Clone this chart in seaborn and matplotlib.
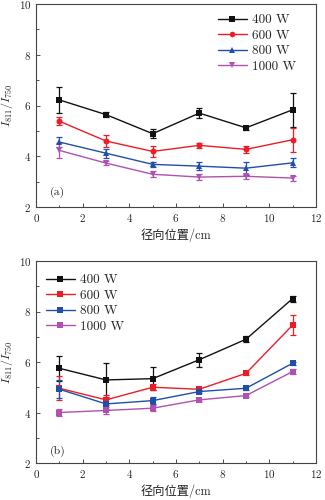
import numpy as np
import pandas as pd
import matplotlib
matplotlib.use("Agg")
import matplotlib.pyplot as plt
import seaborn as sns

sns.set_theme(style="ticks")
plt.rcParams['font.family'] = ['cmr10', 'Noto Sans CJK SC', 'DejaVu Sans']
plt.rcParams['mathtext.fontset'] = 'cm'
plt.rcParams['axes.formatter.use_mathtext'] = True

positions = [1, 3, 5, 7, 9, 11]
powers = ["400 W", "600 W", "800 W", "1000 W"]

a_400 = [6.22, 5.64, 4.89, 5.70, 5.12, 5.83]
a_400_err = [0.50, 0.10, 0.17, 0.20, 0.07, 0.68]
a_600 = [5.38, 4.60, 4.19, 4.43, 4.27, 4.65]
a_600_err = [0.15, 0.24, 0.22, 0.10, 0.15, 0.48]
a_800 = [4.56, 4.12, 3.68, 3.61, 3.53, 3.74]
a_800_err = [0.20, 0.17, 0.10, 0.15, 0.25, 0.18]
a_1000 = [4.23, 3.73, 3.29, 3.18, 3.21, 3.14]
a_1000_err = [0.30, 0.08, 0.12, 0.12, 0.10, 0.10]

b_400 = [5.75, 5.29, 5.34, 6.09, 6.90, 8.51]
b_400_err = [0.50, 0.68, 0.45, 0.28, 0.12, 0.12]
b_600 = [4.96, 4.50, 5.00, 4.92, 5.55, 7.46]
b_600_err = [0.48, 0.20, 0.12, 0.05, 0.05, 0.40]
b_800 = [4.92, 4.34, 4.47, 4.83, 4.96, 5.95]
b_800_err = [0.35, 0.20, 0.15, 0.07, 0.08, 0.05]
b_1000 = [4.00, 4.08, 4.17, 4.50, 4.67, 5.62]
b_1000_err = [0.15, 0.15, 0.12, 0.05, 0.05, 0.10]

colors = ["#111111", "#ee1c25", "#1f4fa8", "#b050b0"]
markers_a = ["s", "o", "^", "v"]
markers_b = ["s", "s", "s", "s"]

xlabel = "径向位置/cm"
ylabel = r"$I_{811}/I_{750}$"


def make_df(series):
    rows = []
    for p, (vals, errs) in zip(powers, series):
        for x, v, e in zip(positions, vals, errs):
            rows.append({"x": x, "y": v, "err": e, "power": p})
    return pd.DataFrame(rows)


fig = plt.figure(figsize=(3.25, 5.0), dpi=100)
ax_a = fig.add_axes([0.111, 0.586, 0.861, 0.406])
ax_b = fig.add_axes([0.111, 0.074, 0.861, 0.404])

panels = [
    (ax_a, make_df([(a_400, a_400_err), (a_600, a_600_err), (a_800, a_800_err), (a_1000, a_1000_err)]),
     markers_a, "(a)", "upper right", (0.964, 1.0), 0.06),
    (ax_b, make_df([(b_400, b_400_err), (b_600, b_600_err), (b_800, b_800_err), (b_1000, b_1000_err)]),
     markers_b, "(b)", "upper left", (0.0, 0.985), 0.045),
]

for ax, df, mks, lab, loc, anchor, ly in panels:
    for p, c in zip(powers, colors):
        sub = df[df.power == p]
        ax.errorbar(sub.x, sub.y, yerr=sub.err, fmt="none", ecolor=c,
                    elinewidth=0.9, capsize=2.5, capthick=0.9, zorder=2)
    sns.lineplot(data=df, x="x", y="y", hue="power", style="power",
                 hue_order=powers, style_order=powers, palette=colors,
                 markers=mks, dashes=False, markersize=4.3, markeredgewidth=0,
                 linewidth=1.0, ax=ax, zorder=3)
    ax.set_xlim(0, 12)
    ax.set_ylim(2, 10)
    ax.set_xticks([0, 2, 4, 6, 8, 10, 12])
    ax.set_yticks([2, 4, 6, 8, 10])
    ax.set_xticks([1, 3, 5, 7, 9, 11], minor=True)
    ax.set_yticks([3, 5, 7, 9], minor=True)
    ax.tick_params(axis="both", which="both", direction="in", labelsize=8,
                   color="#333333")
    ax.tick_params(which="major", length=3, width=0.6)
    ax.tick_params(which="minor", length=1.8, width=0.6)
    for s in ax.spines.values():
        s.set_linewidth(0.8)
        s.set_color("#444444")
    ax.set_xlabel(xlabel, fontsize=8.8, labelpad=3)
    ax.set_ylabel(ylabel, fontsize=8.5)
    ax.yaxis.set_label_coords(-0.075, 0.5)
    ax.text(0.05, ly, lab, transform=ax.transAxes, fontsize=8.5)
    leg = ax.legend(loc=loc, bbox_to_anchor=anchor, frameon=False,
                    fontsize=9.5, handlelength=2.2, labelspacing=0.25,
                    borderaxespad=0.35, handletextpad=0.4)
    for h in leg.legend_handles:
        h.set_markersize(4)
        h.set_markeredgewidth(0)
        h.set_linewidth(1.0)

fig.savefig("out.png", dpi=100)
